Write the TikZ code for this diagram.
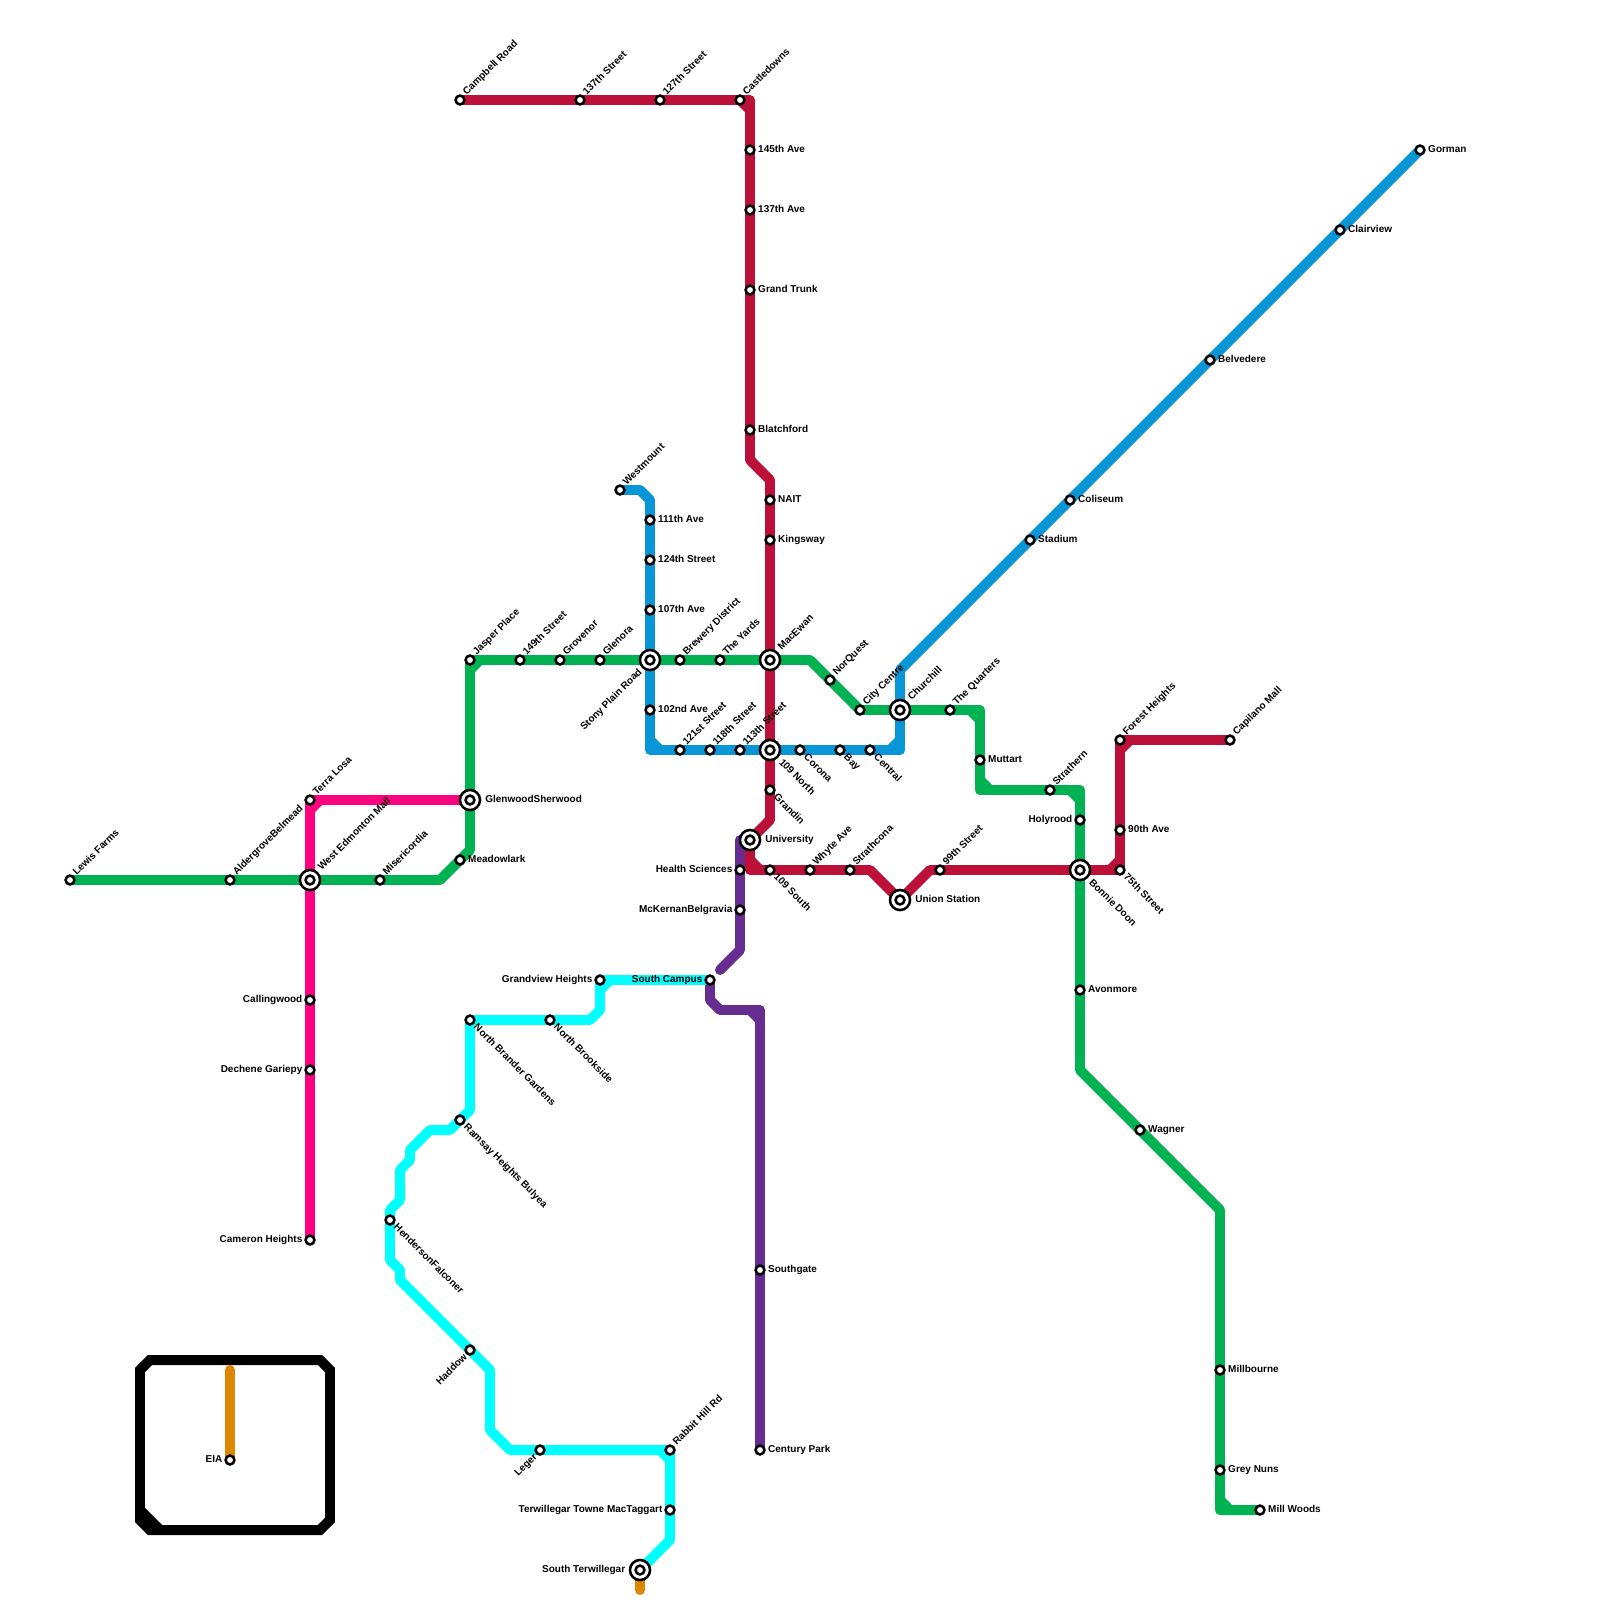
\documentclass[tikz,border=0pt]{standalone}
\usepackage{fontspec}
\setmainfont{Liberation Sans}
\usepackage{xcolor}
\usetikzlibrary{backgrounds,calc}
\definecolor{cgreen}{HTML}{00B251}
\definecolor{cred}{HTML}{BD1038}
\definecolor{cblue}{HTML}{0896D7}
\definecolor{cpurple}{HTML}{662C90}
\definecolor{cpink}{HTML}{FF0080}
\definecolor{corange}{HTML}{DF8600}
\definecolor{ccyan}{HTML}{00FFFF}
\tikzset{
  x=0.025cm, y=-0.025cm,
  stn/.style={circle, draw, fill=white, line width=1.8pt, minimum size=6.3pt, inner sep=0pt},
  hub/.style={circle, draw, fill=white, line width=1.8pt, minimum size=14.3pt, inner sep=0pt, outer sep=2pt,
              path picture={\draw[line width=1.8pt] (path picture bounding box.center) circle (3.15pt);}},
  lbl/.style={font=\bfseries\fontsize{7.1}{8}\selectfont, inner sep=0pt, text height=5pt, text depth=1.5pt},
  lblE/.style={label={[lbl,anchor=west,label distance=1.6pt]0:#1}},
  lblW/.style={label={[lbl,anchor=east,label distance=1.2pt]180:#1}},
  lblNE/.style={label={[lbl,xshift=.6pt,yshift=-1.8pt,rotate=45,anchor=west,label distance=3pt]45:#1}},
  lblSE/.style={label={[lbl,xshift=.7pt,yshift=1.6pt,rotate=-45,anchor=west,label distance=3pt]-45:#1}},
  lblSW/.style={label={[lbl,yshift=1.8pt,rotate=45,anchor=east,label distance=3pt]225:#1}},
  metro/.style={line width=7.09pt, line join=round, line cap=round}
}
\newcommand{\bevel}[4]{\draw[metro,#1] ($(#2)+(#3)$) -- ($(#2)+(#4)$);}
\begin{document}
\begin{tikzpicture}
  \useasboundingbox (0,0) rectangle (1600,1600);
  % airport box
  \draw[line width=7.09pt] (150,1360) -- (320,1360) -- (330,1370) -- (330,1520) -- (320,1530) -- (150,1530) -- (140,1520) -- (140,1370) -- cycle;
  \draw[line width=7.09pt] (140,1510) -- (160,1530);
  % green line
  \node[stn,lblNE=Lewis Farms] (lewis) at (70,880) {};
  \node[stn,lblNE=AldergroveBelmead] (aldergrove) at (230,880) {};
  \node[hub,lblNE=West Edmonton Mall] (wem) at (310,880) {};
  \node[stn,lblNE=Misericordia] (misericordia) at (380,880) {};
  \coordinate (g1) at (440,880);
  \node[stn,lblE=Meadowlark] (meadowlark) at (460,860) {};
  \coordinate (g2) at (470,850);
  \node[hub,lblE=GlenwoodSherwood] (glenwood) at (470,800) {};
  \node[stn,lblNE=Jasper Place] (jasper) at (470,660) {};
  \node[stn,lblNE=149th Street] (st149) at (520,660) {};
  \node[stn,lblNE=Grovenor] (grovenor) at (560,660) {};
  \node[stn,lblNE=Glenora] (glenora) at (600,660) {};
  \node[hub,lblSW=Stony Plain Road] (stony) at (650,660) {};
  \node[stn,lblNE=Brewery District] (brewery) at (680,660) {};
  \node[stn,lblNE=The Yards] (yards) at (720,660) {};
  \node[hub,lblNE=MacEwan] (macewan) at (770,660) {};
  \coordinate (g3) at (810,660);
  \node[stn,lblNE=NorQuest] (norquest) at (830,680) {};
  \node[stn,lblNE=City Centre] (citycentre) at (860,710) {};
  \node[hub,lblNE=Churchill] (churchill) at (900,710) {};
  \node[stn,lblNE=The Quarters] (quarters) at (950,710) {};
  \coordinate (g4) at (980,710);
  \node[stn,lblE=Muttart] (muttart) at (980,760) {};
  \coordinate (g5) at (980,790);
  \node[stn,lblNE=Strathern] (strathern) at (1050,790) {};
  \coordinate (g6) at (1080,790);
  \node[stn,lblW=Holyrood] (holyrood) at (1080,820) {};
  \node[hub,lblSE=Bonnie Doon] (bonnie) at (1080,870) {};
  \node[stn,lblE=Avonmore] (avonmore) at (1080,990) {};
  \coordinate (g7) at (1080,1070);
  \node[stn,lblE=Wagner] (wagner) at (1140,1130) {};
  \coordinate (g8) at (1220,1210);
  \node[stn,lblE=Millbourne] (millbourne) at (1220,1370) {};
  \node[stn,lblE=Grey Nuns] (greynuns) at (1220,1470) {};
  \coordinate (g9) at (1220,1510);
  \node[stn,lblE=Mill Woods] (millwoods) at (1260,1510) {};
  % red line
  \node[stn,lblNE=Campbell Road] (campbell) at (460,100) {};
  \node[stn,lblNE=137th Street] (st137) at (580,100) {};
  \node[stn,lblNE=127th Street] (st127) at (660,100) {};
  \node[stn,lblNE=Castledowns] (castledowns) at (740,100) {};
  \coordinate (r1) at (750,100);
  \node[stn,lblE=145th Ave] (av145) at (750,150) {};
  \node[stn,lblE=137th Ave] (av137) at (750,210) {};
  \node[stn,lblE=Grand Trunk] (grandtrunk) at (750,290) {};
  \node[stn,lblE=Blatchford] (blatchford) at (750,430) {};
  \coordinate (r2) at (750,460);
  \coordinate (r3) at (770,480);
  \node[stn,lblE=NAIT] (nait) at (770,500) {};
  \node[stn,lblE=Kingsway] (kingsway) at (770,540) {};
  \node[hub,lblSE=109 North] (north109) at (770,750) {};
  \node[stn,lblSE=Grandin] (grandin) at (770,790) {};
  \coordinate (r4) at (770,820);
  \node[hub,lblE=University] (university) at (750,840) {};
  \coordinate (r5) at (750,870);
  \node[stn,lblSE=109 South] (south109) at (770,870) {};
  \node[stn,lblNE=Whyte Ave] (whyte) at (810,870) {};
  \node[stn,lblNE=Strathcona] (strathcona) at (850,870) {};
  \coordinate (r6) at (870,870);
  \node[hub,lblE=Union Station] (union) at (900,900) {};
  \coordinate (r7) at (930,870);
  \node[stn,lblNE=99th Street] (st99) at (940,870) {};
  \node[stn,lblSE=75th Street] (st75) at (1120,870) {};
  \node[stn,lblE=90th Ave] (av90) at (1120,830) {};
  \node[stn,lblNE=Forest Heights] (forest) at (1120,740) {};
  \node[stn,lblNE=Capilano Mall] (capilano) at (1230,740) {};
  % blue line
  \node[stn,lblNE=Westmount] (westmount) at (620,490) {};
  \coordinate (b1) at (640,490);
  \coordinate (b2) at (650,500);
  \node[stn,lblE=111th Ave] (av111) at (650,520) {};
  \node[stn,lblE=124th Street] (st124) at (650,560) {};
  \node[stn,lblE=107th Ave] (av107) at (650,610) {};
  \node[stn,lblE=102nd Ave] (av102) at (650,710) {};
  \coordinate (b3) at (650,750);
  \node[stn,lblNE=121st Street] (st121) at (680,750) {};
  \node[stn,lblNE=118th Street] (st118) at (710,750) {};
  \node[stn,lblNE=113th Street] (st113) at (740,750) {};
  \node[stn,lblSE=Corona] (corona) at (800,750) {};
  \node[stn,lblSE=Bay] (bay) at (840,750) {};
  \node[stn,lblSE=Central] (central) at (870,750) {};
  \coordinate (b4) at (900,750);
  \coordinate (b5) at (900,670);
  \node[stn,lblE=Stadium] (stadium) at (1030,540) {};
  \node[stn,lblE=Coliseum] (coliseum) at (1070,500) {};
  \node[stn,lblE=Belvedere] (belvedere) at (1210,360) {};
  \node[stn,lblE=Clairview] (clairview) at (1340,230) {};
  \node[stn,lblE=Gorman] (gorman) at (1420,150) {};
  % pink line
  \node[stn,lblNE=Terra Losa] (terralosa) at (310,800) {};
  \node[stn,lblW=Callingwood] (callingwood) at (310,1000) {};
  \node[stn,lblW=Dechene Gariepy] (dechene) at (310,1070) {};
  \node[stn,lblW=Cameron Heights] (cameron) at (310,1240) {};
  % purple line
  \node[stn,lblW=Health Sciences] (health) at (740,870) {};
  \node[stn,lblW=McKernanBelgravia] (mckernan) at (740,910) {};
  \coordinate (p1) at (740,840);
  \coordinate (p2) at (740,950);
  \coordinate (p3) at (720,970);
  \node[stn,lblW=South Campus] (southcampus) at (710,980) {};
  \coordinate (p4) at (710,1000);
  \coordinate (p5) at (720,1010);
  \coordinate (p6) at (760,1010);
  \node[stn,lblE=Southgate] (southgate) at (760,1270) {};
  \node[stn,lblE=Century Park] (century) at (760,1450) {};
  % cyan line
  \node[stn,lblW=Grandview Heights] (grandview) at (600,980) {};
  \coordinate (c1) at (600,1010);
  \coordinate (c2) at (590,1020);
  \node[stn,lblSE=North Brookside] (brookside) at (550,1020) {};
  \node[stn,lblSE=North Brander Gardens] (brander) at (470,1020) {};
  \coordinate (c3) at (470,1110);
  \node[stn,lblSE=Ramsay Heights Bulyea] (ramsay) at (460,1120) {};
  \coordinate (c4) at (450,1130);
  \coordinate (c5) at (430,1130);
  \coordinate (c6) at (410,1150);
  \coordinate (c7) at (410,1160);
  \coordinate (c8) at (400,1170);
  \coordinate (c9) at (400,1200);
  \coordinate (c10) at (390,1210);
  \node[stn,lblSE=HendersonFalconer] (henderson) at (390,1220) {};
  \coordinate (c11) at (390,1260);
  \coordinate (c12) at (400,1270);
  \coordinate (c13) at (400,1280);
  \node[stn,lblSW=Haddow] (haddow) at (470,1350) {};
  \coordinate (c14) at (490,1370);
  \coordinate (c15) at (490,1430);
  \coordinate (c16) at (510,1450);
  \node[stn,lblSW=Leger] (leger) at (540,1450) {};
  \node[stn,lblNE=Rabbit Hill Rd] (rabbit) at (670,1450) {};
  \node[stn,lblW=Terwillegar Towne MacTaggart] (towne) at (670,1510) {};
  \coordinate (c17) at (670,1540);
  \node[hub,lblW=South Terwillegar] (southterw) at (640,1570) {};
  % orange line
  \node[stn,lblW=EIA] (eia) at (230,1460) {};
  \coordinate (o1) at (230,1370);
  \coordinate (o2) at (640,1590);
  \begin{scope}[on background layer]
    \draw[metro,corange] (o1) -- (eia.center);
    \draw[metro,corange] (southterw.center) -- (o2);
    \draw[metro,cpink] (glenwood.center) -- (terralosa.center) -- (wem.center) -- (callingwood.center) -- (dechene.center) -- (cameron.center);
    \bevel{cpink}{terralosa}{0,10}{10,0}
    \draw[metro,cpurple] (university.center) -- (p1) -- (health.center) -- (mckernan.center) -- (p2) -- (p3);
    \draw[metro,cpurple] (southcampus.center) -- (p4) -- (p5) -- (p6) -- (southgate.center) -- (century.center);
    \bevel{cpurple}{p6}{-10,0}{0,10}
    \draw[metro,ccyan] (southcampus.center) -- (grandview.center) -- (c1) -- (c2) -- (brookside.center) -- (brander.center) -- (c3) -- (ramsay.center) -- (c4) -- (c5) -- (c6) -- (c7) -- (c8) -- (c9) -- (c10) -- (henderson.center) -- (c11) -- (c12) -- (c13) -- (haddow.center) -- (c14) -- (c15) -- (c16) -- (leger.center) -- (rabbit.center) -- (towne.center) -- (c17) -- (southterw.center);
    \bevel{ccyan}{grandview}{0,10}{10,0}
    \bevel{ccyan}{rabbit}{-10,0}{0,10}
    \draw[metro,cblue] (westmount.center) -- (b1) -- (b2) -- (av111.center) -- (st124.center) -- (av107.center) -- (stony.center) -- (av102.center) -- (b3) -- (st121.center) -- (st118.center) -- (st113.center) -- (north109.center) -- (corona.center) -- (bay.center) -- (central.center) -- (b4) -- (churchill.center) -- (b5) -- (stadium.center) -- (coliseum.center) -- (belvedere.center) -- (clairview.center) -- (gorman.center);
    \bevel{cblue}{b3}{0,-10}{10,0}
    \bevel{cblue}{b4}{-10,0}{0,-10}
    \draw[metro,cred] (campbell.center) -- (st137.center) -- (st127.center) -- (castledowns.center) -- (r1) -- (av145.center) -- (av137.center) -- (grandtrunk.center) -- (blatchford.center) -- (r2) -- (r3) -- (nait.center) -- (kingsway.center) -- (macewan.center) -- (north109.center) -- (grandin.center) -- (r4) -- (university.center) -- (r5) -- (south109.center) -- (whyte.center) -- (strathcona.center) -- (r6) -- (union.center) -- (r7) -- (st99.center) -- (bonnie.center) -- (st75.center) -- (av90.center) -- (forest.center) -- (capilano.center);
    \bevel{cred}{castledowns}{0,0}{10,10}
    \bevel{cred}{r5}{0,-10}{10,0}
    \bevel{cred}{st75}{-10,0}{0,-10}
    \bevel{cred}{forest}{0,10}{10,0}
    \draw[metro,cgreen] (lewis.center) -- (aldergrove.center) -- (wem.center) -- (misericordia.center) -- (g1) -- (meadowlark.center) -- (g2) -- (glenwood.center) -- (jasper.center) -- (st149.center) -- (grovenor.center) -- (glenora.center) -- (stony.center) -- (brewery.center) -- (yards.center) -- (macewan.center) -- (g3) -- (norquest.center) -- (citycentre.center) -- (churchill.center) -- (quarters.center) -- (g4) -- (muttart.center) -- (g5) -- (strathern.center) -- (g6) -- (holyrood.center) -- (bonnie.center) -- (avonmore.center) -- (g7) -- (wagner.center) -- (g8) -- (millbourne.center) -- (greynuns.center) -- (g9) -- (millwoods.center);
    \bevel{cgreen}{jasper}{0,10}{10,0}
    \bevel{cgreen}{g4}{-10,0}{0,10}
    \bevel{cgreen}{g5}{0,-10}{10,0}
    \bevel{cgreen}{g6}{-10,0}{0,10}
    \bevel{cgreen}{g9}{0,-10}{10,0}
  \end{scope}
\end{tikzpicture}
\end{document}
